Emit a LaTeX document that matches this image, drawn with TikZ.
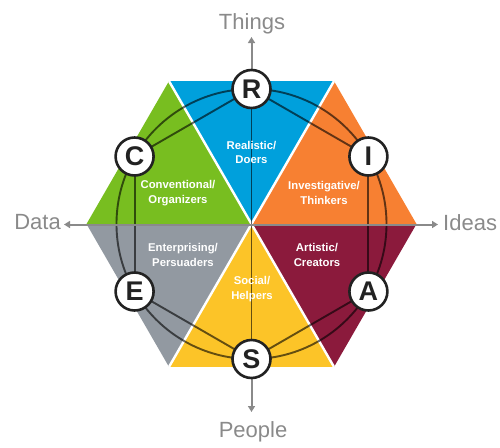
\documentclass[tikz,border=0pt]{standalone}
\usepackage{fontspec}
\setmainfont{Liberation Sans}
\usetikzlibrary{arrows.meta}
\definecolor{cblue}{RGB}{0,160,220}
\definecolor{cgreen}{RGB}{120,190,32}
\definecolor{corange}{RGB}{247,128,50}
\definecolor{cmaroon}{RGB}{139,26,60}
\definecolor{cyellow}{RGB}{252,196,40}
\definecolor{cgray}{RGB}{146,153,161}
\definecolor{axisgray}{RGB}{138,138,138}
\definecolor{ringdark}{RGB}{34,34,34}
\pgfdeclarelayer{bg}
\pgfdeclarelayer{mid}
\pgfsetlayers{bg,mid,main}
\tikzset{
  conn/.style={draw=black, draw opacity=0.6, line width=1.9pt},
  sep/.style={draw=white, line width=2.4pt},
  axisline/.style={draw=axisgray, line width=2pt},
  axisarrow/.style={axisline, -{Triangle[length=6pt,width=7pt]}},
  letter/.style={circle, fill=white, draw=ringdark, line width=2.6pt, minimum size=38pt, inner sep=0pt,
     text=ringdark, font=\bfseries\fontsize{27}{27}\selectfont},
  tlabel/.style={text=white, align=center, inner sep=0pt, font=\bfseries\fontsize{11.3}{14.3}\selectfont},
  alabel/.style={text=axisgray, inner sep=0pt, font=\fontsize{22}{22}\selectfont}
}
\begin{document}
\begin{tikzpicture}[x=1pt,y=-1pt]
\useasboundingbox (0,0) rectangle (500,447);
\coordinate (O) at (251.5,224);
\coordinate (V0) at (416.5,224);
\coordinate (V60) at (334,81.1);
\coordinate (V120) at (169,81.1);
\coordinate (V180) at (86.5,224);
\coordinate (V240) at (169,366.9);
\coordinate (V300) at (334,366.9);

% circle letters
\node[letter] (R) at (251.5,89) {R};
\node[letter] (I) at (368.4,156.5) {I};
\node[letter] (A) at (368.4,291.5) {A};
\node[letter] (S) at (251.5,359) {S};
\node[letter] (E) at (134.6,291.5) {E};
\node[letter] (C) at (134.6,156.5) {C};

% triangle labels
\node[tlabel] (tR) at (251.5,152.5) {Realistic/\\Doers};
\node[tlabel] (tC) at (178,193) {Conventional/\\Organizers};
\node[tlabel] (tI) at (324,193) {Investigative/\\Thinkers};
\node[tlabel] (tE) at (183,255) {Enterprising/\\Persuaders};
\node[tlabel] (tA) at (317,255) {Artistic/\\Creators};
\node[tlabel] (tS) at (252,289) {Social/\\Helpers};

% axis labels
\node[alabel, anchor=base] (Things) at (252,29) {Things};
\node[alabel, anchor=base] (People) at (253,437.5) {People};
\node[alabel, anchor=base east] (Data) at (61,229.5) {Data};
\node[alabel, anchor=base west] (Ideas) at (443,230.5) {Ideas};

\coordinate (aT) at (251.5,37);
\coordinate (aP) at (251.5,412);
\coordinate (aD) at (64,224.5);
\coordinate (aI) at (438,224.5);

\begin{pgfonlayer}{bg}
  \fill[cblue] (O) -- (V120) -- (V60) -- cycle;
  \fill[corange] (O) -- (V60) -- (V0) -- cycle;
  \fill[cmaroon] (O) -- (V0) -- (V300) -- cycle;
  \fill[cyellow] (O) -- (V300) -- (V240) -- cycle;
  \fill[cgray] (O) -- (V240) -- (V180) -- cycle;
  \fill[cgreen] (O) -- (V180) -- (V120) -- cycle;
  \draw[sep] (O) -- (V60);
  \draw[sep] (O) -- (V120);
  \draw[sep] (O) -- (V240);
  \draw[sep] (O) -- (V300);
\end{pgfonlayer}

\begin{pgfonlayer}{mid}
  \draw[conn] (O) circle[radius=135pt];
  \draw[conn] (R.center) -- (I.center);
  \draw[conn] (I.center) -- (A.center);
  \draw[conn] (A.center) -- (S.center);
  \draw[conn] (S.center) -- (E.center);
  \draw[conn] (E.center) -- (C.center);
  \draw[conn] (C.center) -- (R.center);
  \draw[conn] (R.center) -- (S.center);
  \draw[axisline, {Triangle[length=6pt,width=7pt]}-{Triangle[length=6pt,width=7pt]}] (aD) -- (aI);
  \draw[axisarrow] (R) -- (aT);
  \draw[axisarrow] (S) -- (aP);
\end{pgfonlayer}
\end{tikzpicture}
\end{document}
